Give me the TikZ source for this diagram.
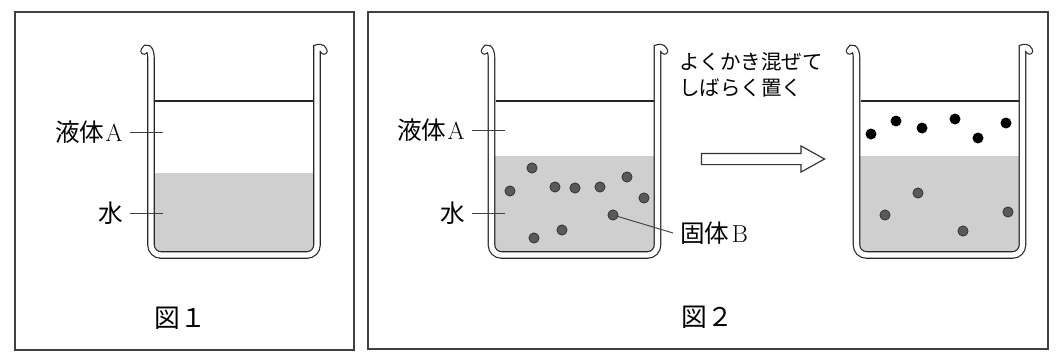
\documentclass[tikz,border=0pt]{standalone}
\usepackage{fontspec}
\newfontfamily\jp{Noto Sans CJK JP}
\usetikzlibrary{shapes.arrows}

\colorlet{watergray}{black!19}

\tikzset{
  panel/.style={draw=black!75, line width=1.2pt},
  wall/.style={draw=black!85, line width=1pt, double=white, double distance=4.5pt, line cap=round},
  surface/.style={draw=black!85, line width=0.9pt},
  leader/.style={draw=black!75, line width=0.8pt},
  partname/.style={font=\fontsize{21}{24}\selectfont, inner xsep=0.21cm, inner ysep=1pt},
  note/.style={font=\jp\fontsize{17.5}{22}\selectfont, align=left, inner sep=0pt},
  figname/.style={font=\jp\fontsize{22}{26}\selectfont, inner sep=0pt},
  grain/.style={circle, fill=black!65, draw=black!85, line width=0.5pt, inner sep=0pt, minimum size=0.31cm},
  floater/.style={circle, fill=black, inner sep=0pt, minimum size=0.33cm},
  pics/beaker/.style={code={
    % water under liquid A
    \begin{scope}
      \clip[rounded corners=0.3cm] (0,40) rectangle (166,255);
      \fill[watergray] (0,#1) rectangle (166,255);
    \end{scope}
    \draw[surface] (4,101) -- (162,101);
    \draw[wall] (-7,51) .. controls (-5,46) and (0,48) .. (0,58)
      [rounded corners=0.3cm] -- (0,255) -- (166,255) -- (166,58) [sharp corners]
      .. controls (166,48) and (171,46) .. (173,51);
  }}
}

\begin{document}
\begin{tikzpicture}[x=0.03cm, y=-0.03cm]
    \useasboundingbox (0,0) rectangle (1058,358);

    % Panels
    \draw[panel] (15,12) rectangle (354,350);
    \draw[panel] (368,12) rectangle (1048,349);

    % Beakers
    \pic at (151,0) {beaker=173};
    \pic at (491.5,0) {beaker=156};
    \pic at (856.5,0) {beaker=156};

    % Nodes
    \node[partname, anchor=east] (liqA1) at (130,132) {{\jp 液体}\kern1pt A};
    \node[partname, anchor=east] (water1) at (130,213) {\jp 水};
    \coordinate (liqA1end) at (163,132);
    \coordinate (water1end) at (163,213);
    \node[figname] (fig1) at (180,318) {図１};

    \node[partname, anchor=east] (liqA2) at (472,130) {{\jp 液体}\kern1pt A};
    \node[partname, anchor=east] (water2) at (472,213) {\jp 水};
    \coordinate (liqA2end) at (505,130);
    \coordinate (water2end) at (505,213);
    \foreach \x/\y [count=\i] in {532/168, 510/191, 555/187, 575/188, 600/187,
        627/177, 644/198, 613/215, 562/230, 534/238}
      \node[grain] (g\i) at (\x,\y) {};
    \node[partname, anchor=west] (solidB) at (673,233) {{\jp 固体}\kern2pt B};

    \node[note, anchor=west] (stir) at (679,75) {よくかき混ぜて\\しばらく置く};
    \node[single arrow, draw=black!80, line width=1pt, fill=white,
      minimum height=3.69cm, minimum width=0.75cm, inner xsep=0pt, inner ysep=0.15cm,
      single arrow head extend=0.225cm, single arrow tip angle=58] (mix) at (758,159) {};

    \foreach \x/\y [count=\i] in {871/134, 896/121, 922/128, 955/119, 978/138, 1006/123}
      \node[floater] (f\i) at (\x,\y) {};
    \foreach \x/\y [count=\i] in {918/193, 885/215, 963/231, 1008/212}
      \node[grain] (h\i) at (\x,\y) {};
    \node[figname] (fig2) at (707,317) {図２};

    % Edges
    \draw[leader] (liqA1.east) -- (liqA1end);
    \draw[leader] (water1.east) -- (water1end);
    \draw[leader] (liqA2.east) -- (liqA2end);
    \draw[leader] (water2.east) -- (water2end);
    \draw[leader] (g8) -- (solidB.west);
\end{tikzpicture}
\end{document}
